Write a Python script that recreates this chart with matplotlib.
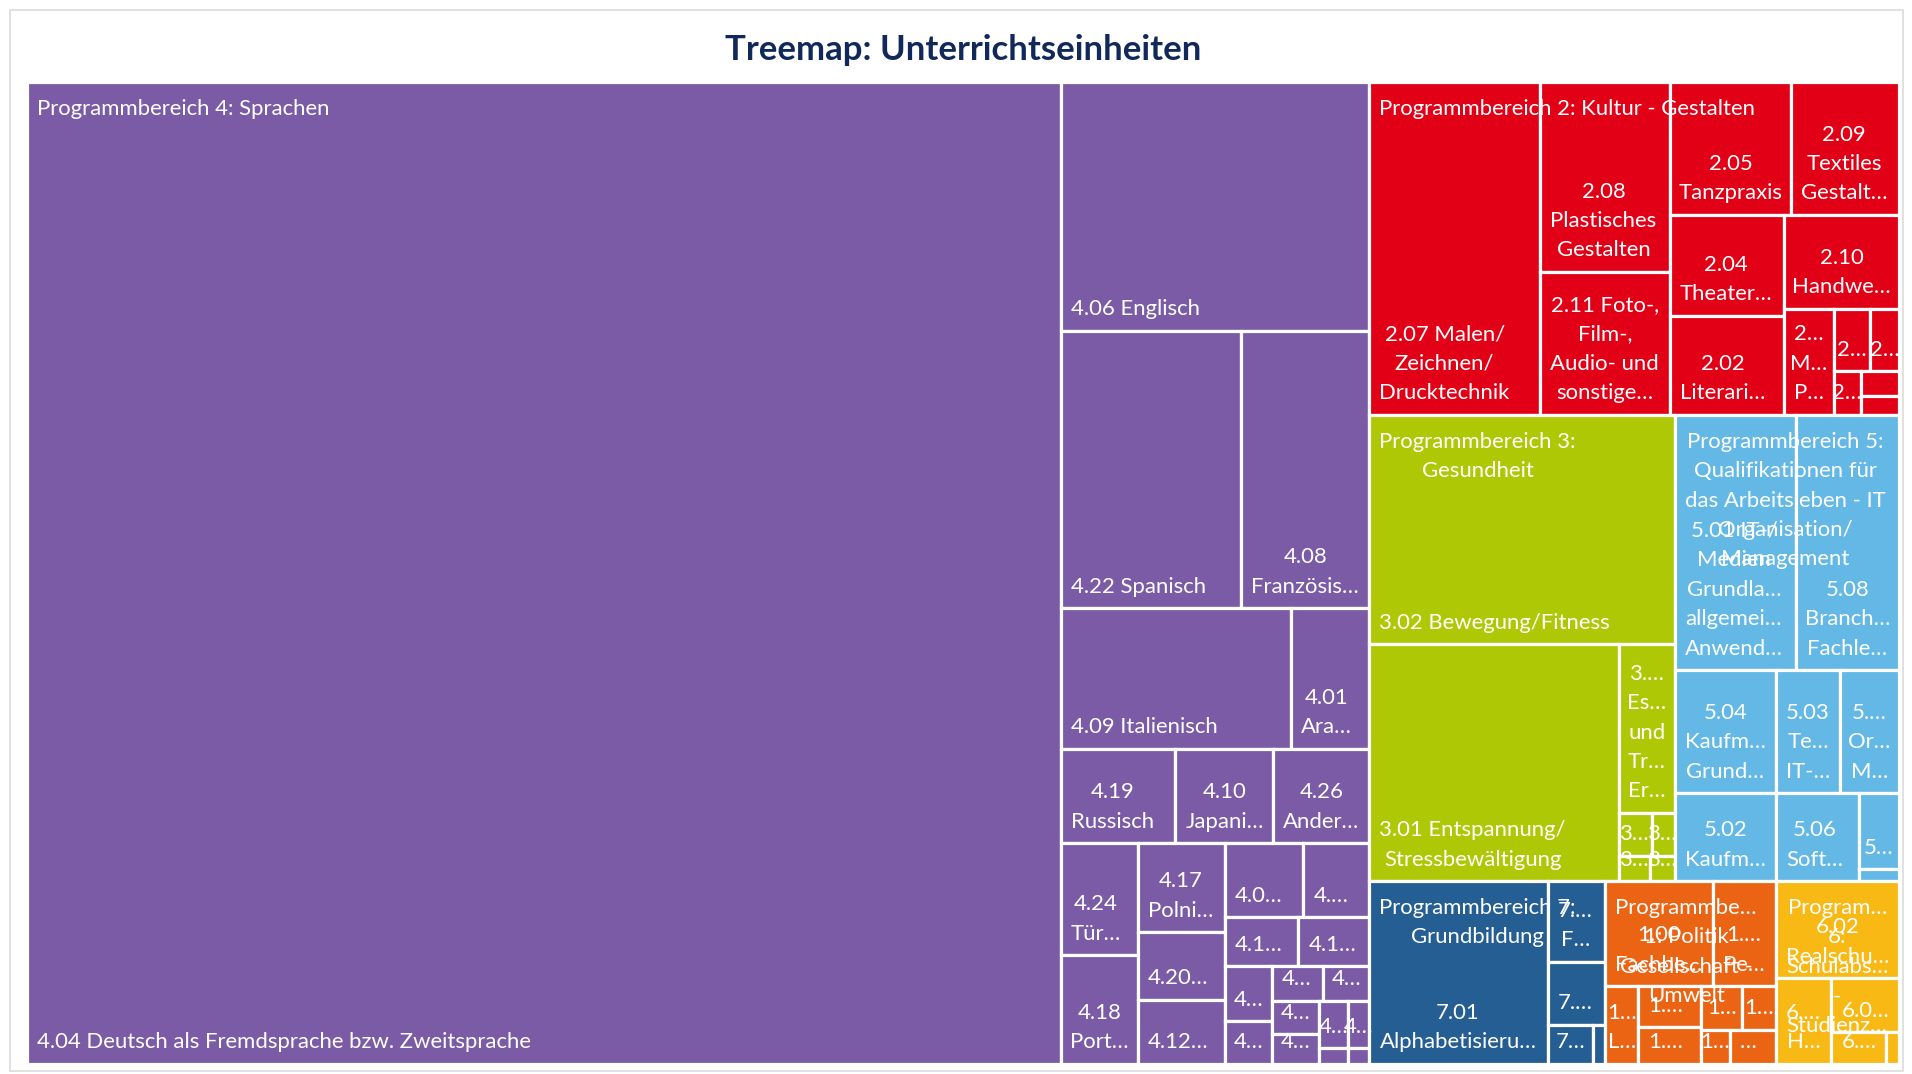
"""Treemap: Unterrichtseinheiten je Programmbereich (nachgebaut nach Excel-Treemap)."""

import matplotlib

matplotlib.use("Agg")
import matplotlib.pyplot as plt
from matplotlib.font_manager import FontProperties
from matplotlib.patches import Rectangle

FONT = ["Lato", "DejaVu Sans"]
plt.rcParams["font.family"] = FONT

# ---------------------------------------------------------------- data
# values = Unterrichtseinheiten, in the order Excel places the tiles
pb4_labels = [
    "4.04 Deutsch als Fremdsprache bzw. Zweitsprache", "4.06 Englisch",
    "4.22 Spanisch", "4.08\nFranzösis…", "4.09 Italienisch", "4.01\nAra…",
    "4.19\nRussisch", "4.10\nJapani…", "4.26\nAnder…", "4.24\nTür…",
    "4.18\nPort…", "4.17\nPolni…", "4.20…", "4.12…", "4.0…", "4.…",
    "4.1…", "4.1…", "4…", "4…", "4…", "4…", "4…", "4…", "4…", "4…", "", "",
]
pb4_values = [50769, 3833, 2504, 1776, 1616, 551, 541, 463, 454, 428, 417,
              389, 295, 282, 290, 244, 180, 174, 129, 101, 89, 81, 79, 70,
              67, 52, 22, 17]

pb2_labels = [
    "2.07 Malen/\nZeichnen/\nDrucktechnik", "2.08\nPlastisches\nGestalten",
    "2.11 Foto-,\nFilm-,\nAudio- und\nsonstige…", "2.05\nTanzpraxis",
    "2.09\nTextiles\nGestalt…", "2.04\nTheater…", "2.02\nLiterari…",
    "2.10\nHandwe…", "2…\nM…\nP…", "2…", "2…", "2…", "", "",
]
pb2_values = [2845, 1230, 924, 805, 718, 573, 565, 539, 265, 114, 89, 58, 48, 36]

pb3_labels = [
    "3.02 Bewegung/Fitness", "3.01 Entspannung/\nStressbewältigung",
    "3.…\nEs…\nund\nTr…\nEr…", "3…", "3…", "3…", "3…",
]
pb3_values = [3510, 2950, 472, 70, 50, 40, 31]

pb5_labels = [
    "5.01 IT-/\nMedien\nGrundla…\nallgemei…\nAnwend…", "5.08\nBranch…\nFachle…",
    "5.04\nKaufm…\nGrund…", "5.02\nKaufm…", "5.03\nTe…\nIT-…", "5.…\nOr…\nM…",
    "5.06\nSoft…", "5…", "",
]
pb5_values = [1545, 1315, 621, 444, 394, 363, 363, 154, 24]

pb7_labels = ["7.01\nAlphabetisieru…", "7.…\nF…", "7.…", "7…", ""]
pb7_values = [1633, 232, 181, 87, 25]

pb1_labels = ["1.00\nFachbe…", "1.…\nPe…", "1…\nL…", "1.…", "1.…",
              "1…", "1…", "1…", "…"]
pb1_values = [568, 331, 128, 128, 116, 89, 74, 49, 79]

pb6_labels = ["6.02\nRealschu…", "6.…\nH…", "6.0…", "6.…", ""]
pb6_values = [598, 237, 182, 88, 20]

group_labels = [
    "Programmbereich 4: Sprachen",
    "Programmbereich 2: Kultur - Gestalten",
    "Programmbereich 3:\nGesundheit",
    "Programmbereich 5:\nQualifikationen für\ndas Arbeitsleben - IT\nOrganisation/\nManagement",
    "Programmbereich 7:\nGrundbildung",
    "Programmbe…\n1: Politik\nGesellschaft -\nUmwelt",
    "Program…\n6:\nSchulabs…\n-\nStudienz…",
]

# ---------------------------------------------------------------- layout
# strips of the squarified layout: ("v", n) = column of n tiles on the left,
# ("h", n) = row of n tiles on top
top_strips = [("v", 1), ("h", 1), ("h", 2), ("v", 1), ("v", 1), ("v", 1)]
group_strips = [
    [("v", 1), ("h", 1), ("h", 2), ("h", 2), ("h", 3), ("v", 2), ("v", 3),
     ("h", 2), ("h", 2), ("v", 2), ("h", 2), ("v", 2), ("h", 2), ("v", 1), ("v", 1)],
    [("v", 1), ("v", 2), ("h", 2), ("v", 2), ("h", 1), ("v", 1), ("h", 2),
     ("v", 1), ("h", 1), ("v", 1)],
    [("h", 1), ("v", 1), ("h", 1), ("h", 2), ("v", 1), ("v", 1)],
    [("h", 2), ("v", 2), ("h", 2), ("v", 1), ("h", 1), ("h", 1)],
    [("v", 1), ("h", 1), ("h", 1), ("v", 1), ("v", 1)],
    [("h", 2), ("v", 1), ("v", 2), ("h", 2), ("v", 1), ("v", 1)],
    [("h", 1), ("v", 1), ("h", 1), ("v", 1), ("v", 1)],
]
group_colors = ["#7B5BA6", "#E10016", "#AFC806", "#64B8E6", "#255E92",
                "#EB6413", "#F8B914"]

W, H = 1912, 1074
PX0, PY0, PX1, PY1 = 27, 82, 1899, 1064   # plot area in pixels
PAD = 10
PAD_TOP = 17
PAD_BOTTOM = 11.5
FS = 15.9
LINE_PITCH = 25.4


def squarify(values, strips, x, y, w, h):
    scale = w * h / sum(values)
    rects, i = [], 0
    for orient, n in strips:
        chunk = values[i:i + n]
        area = sum(chunk) * scale
        if orient == "v":
            cw = area / h
            yy = y
            for v in chunk:
                ch = v * scale / cw
                rects.append((x, yy, cw, ch))
                yy += ch
            x += cw
            w -= cw
        else:
            rh = area / w
            xx = x
            for v in chunk:
                rw = v * scale / rh
                rects.append((xx, y, rw, rh))
                xx += rw
            y += rh
            h -= rh
        i += n
    return rects


leaf_labels = [pb4_labels, pb2_labels, pb3_labels, pb5_labels, pb7_labels,
               pb1_labels, pb6_labels]
leaf_values = [pb4_values, pb2_values, pb3_values, pb5_values, pb7_values,
               pb1_values, pb6_values]
group_values = [sum(v) for v in leaf_values]

fig = plt.figure(figsize=(W / 100, H / 100), dpi=100)
ax = fig.add_axes([PX0 / W, 1 - PY1 / H, (PX1 - PX0) / W, (PY1 - PY0) / H])
pw, ph = PX1 - PX0, PY1 - PY0
ax.set_xlim(0, pw)
ax.set_ylim(ph, 0)
ax.axis("off")

fig.patches.append(Rectangle((10 / W, 1 - 1071 / H), 1893 / W, 1061 / H,
                             transform=fig.transFigure, fill=False,
                             edgecolor="#D9D9D9", linewidth=1.1))
fig.text(0.5036, 1 - 50 / H, "Treemap: Unterrichtseinheiten", ha="center",
         va="center", fontsize=25, fontweight="bold", color="#10295A")

renderer = fig.canvas.get_renderer()
_, lp_h, lp_d = renderer.get_text_width_height_descent(
    "lp", FontProperties(family=FONT, size=FS), ismath=False)
ls = LINE_PITCH / (lp_h - lp_d)


def put_label(txt, x, y, w, h, top=False):
    if not txt:
        return
    ty = y + PAD_TOP if top else y + h - PAD_BOTTOM
    t = ax.text(x + PAD, ty, txt, ha="left", va="top" if top else "bottom",
                multialignment="center", fontsize=FS, color="white",
                linespacing=ls)
    if t.get_window_extent(renderer).width > w - 2 * PAD:
        t.set_x(x + w / 2)
        t.set_ha("center")


group_rects = squarify(group_values, top_strips, 0, 0, pw, ph)
for g, (gx, gy, gw, gh) in enumerate(group_rects):
    rects = squarify(leaf_values[g], group_strips[g], gx, gy, gw, gh)
    for (x, y, w, h), lab in zip(rects, leaf_labels[g]):
        ax.add_patch(Rectangle((x, y), w, h, facecolor=group_colors[g],
                               edgecolor="white", linewidth=2.3))
        put_label(lab, x, y, w, h)

for g, (gx, gy, gw, gh) in enumerate(group_rects):
    put_label(group_labels[g], gx, gy, gw, gh, top=True)

fig.savefig("out.png", dpi=100)
